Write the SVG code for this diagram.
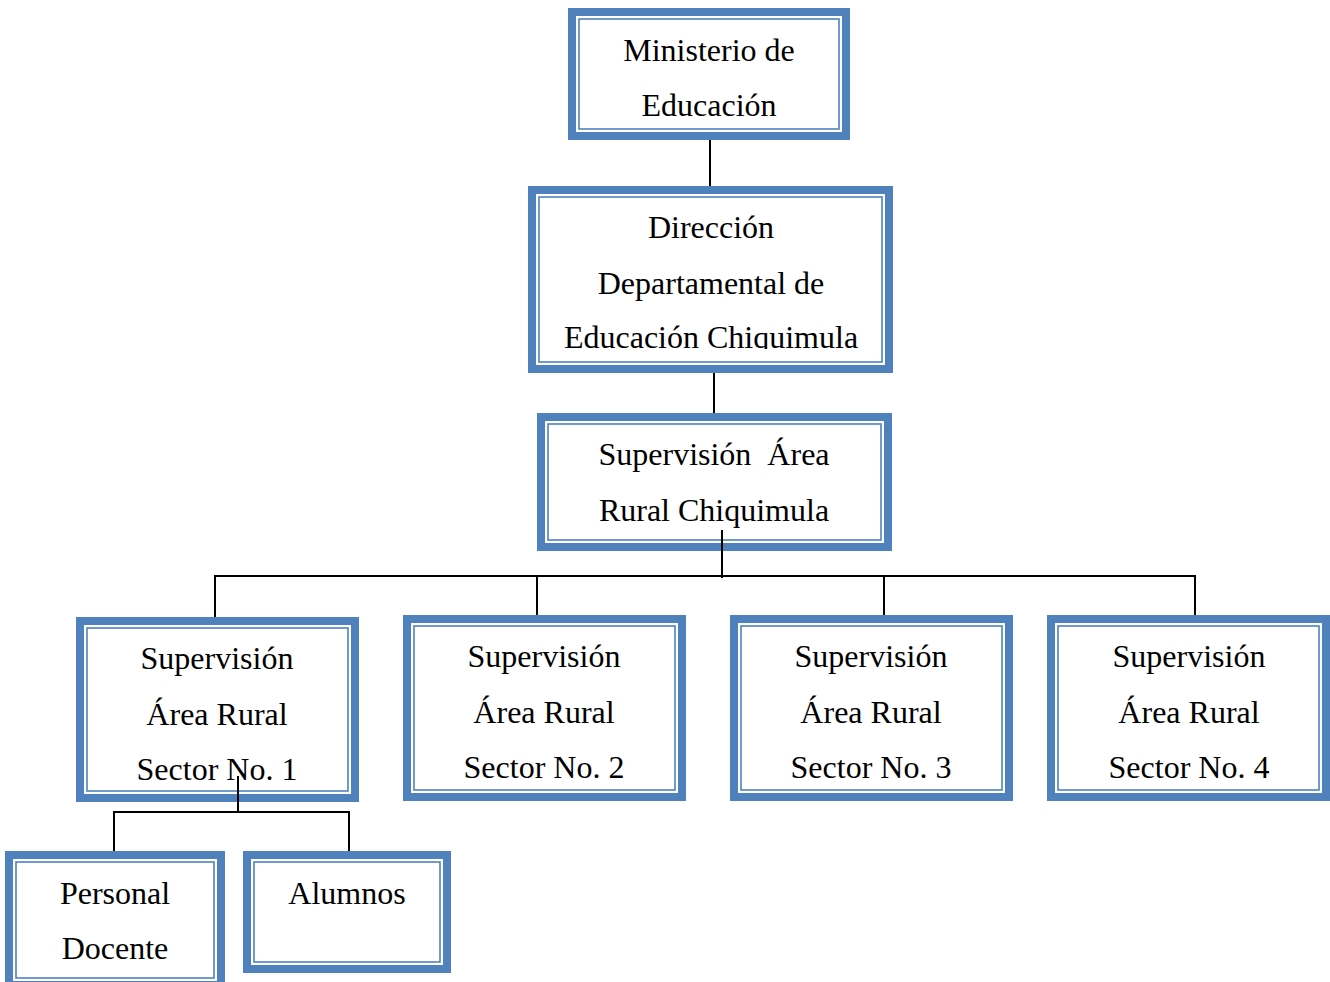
<svg xmlns="http://www.w3.org/2000/svg" width="1330" height="982" viewBox="0 0 1330 982">
<style>
.o{fill:#fff;stroke:#4F81BD;stroke-width:8}
.i{fill:none;stroke:#4F81BD;stroke-width:1.6}
.t{font-family:"Liberation Serif","Times New Roman",serif;font-size:32px;fill:#000;text-anchor:middle}
.c{fill:none;stroke:#000;stroke-width:2}
</style>
<defs>
<clipPath id="cp2"><rect x="528" y="186" width="365" height="163"/></clipPath>
<clipPath id="cp4"><rect x="76" y="617" width="283" height="163"/></clipPath>
</defs>
<g id="n1">
<rect class="o" x="572" y="12" width="274" height="124"/>
<rect class="i" x="579" y="19" width="260" height="110"/>
<text class="t" x="709" y="61">Ministerio de</text>
<text class="t" x="709" y="116">Educación</text>
</g>
<g id="n2">
<rect class="o" x="532" y="190" width="357" height="179"/>
<rect class="i" x="539" y="197" width="343" height="165"/>
<g clip-path="url(#cp2)">
<text class="t" x="711" y="238">Dirección</text>
<text class="t" x="711" y="294">Departamental de</text>
<text class="t" x="711" y="348">Educación Chiquimula</text>
</g>
</g>
<g id="n3">
<rect class="o" x="541" y="417" width="347" height="130"/>
<rect class="i" x="548" y="424" width="333" height="116"/>
<text class="t" x="714" y="465" xml:space="preserve">Supervisión  Área</text>
<text class="t" x="714" y="521">Rural Chiquimula</text>
</g>
<g id="n4">
<rect class="o" x="80" y="621" width="275" height="177"/>
<rect class="i" x="87" y="628" width="261" height="163"/>
<g clip-path="url(#cp4)">
<text class="t" x="217" y="669">Supervisión</text>
<text class="t" x="217" y="725">Área Rural</text>
<text class="t" x="217" y="780">Sector No. 1</text>
</g>
</g>
<g id="n5">
<rect class="o" x="407" y="619" width="275" height="178"/>
<rect class="i" x="414" y="626" width="261" height="164"/>
<text class="t" x="544" y="667">Supervisión</text>
<text class="t" x="544" y="723">Área Rural</text>
<text class="t" x="544" y="778">Sector No. 2</text>
</g>
<g id="n6">
<rect class="o" x="734" y="619" width="275" height="178"/>
<rect class="i" x="741" y="626" width="261" height="164"/>
<text class="t" x="871" y="667">Supervisión</text>
<text class="t" x="871" y="723">Área Rural</text>
<text class="t" x="871" y="778">Sector No. 3</text>
</g>
<g id="n7">
<rect class="o" x="1051" y="619" width="275" height="178"/>
<rect class="i" x="1058" y="626" width="261" height="164"/>
<text class="t" x="1189" y="667">Supervisión</text>
<text class="t" x="1189" y="723">Área Rural</text>
<text class="t" x="1189" y="778">Sector No. 4</text>
</g>
<g id="n8">
<rect class="o" x="9" y="855" width="212" height="130"/>
<rect class="i" x="16" y="862" width="198" height="116"/>
<text class="t" x="115" y="904">Personal</text>
<text class="t" x="115" y="959">Docente</text>
</g>
<g id="n9">
<rect class="o" x="247" y="855" width="200" height="114"/>
<rect class="i" x="254" y="862" width="186" height="100"/>
<text class="t" x="347" y="904">Alumnos</text>
</g>
<g id="connectors">
<path class="c" d="M710 140V186"/>
<path class="c" d="M714 373V413"/>
<path class="c" d="M722 530V578"/>
<path class="c" d="M215 617V576H1195V615"/>
<path class="c" d="M537 576V615"/>
<path class="c" d="M884 576V615"/>
<path class="c" d="M238 776V812"/>
<path class="c" d="M114 851V812H349V851"/>
</g>
</svg>
